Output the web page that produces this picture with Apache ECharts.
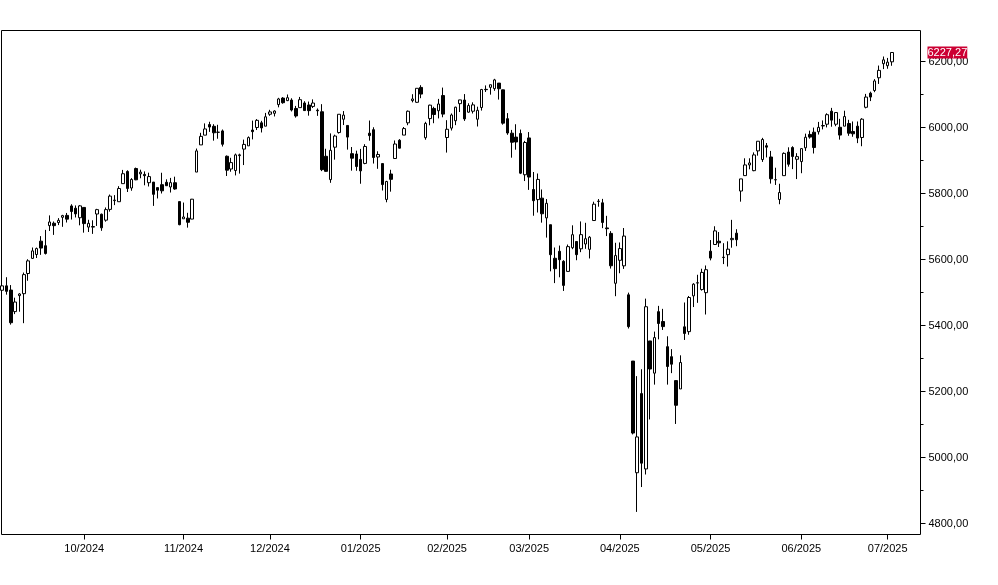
<!DOCTYPE html>
<html>
<head>
<meta charset="utf-8">
<script src="https://cdn.jsdelivr.net/npm/echarts@6.0.0/dist/echarts.min.js"></script>
<style>
html,body{margin:0;padding:0;background:#fff;}
#chart{width:998px;height:585px;}
</style>
</head>
<body>
<div id="chart"></div>
<script>
const dates = [
'2024-09-04','2024-09-05','2024-09-06','2024-09-09','2024-09-10','2024-09-11','2024-09-12','2024-09-13','2024-09-16','2024-09-17','2024-09-18','2024-09-19','2024-09-20','2024-09-23','2024-09-24','2024-09-25','2024-09-26','2024-09-27','2024-09-30',
'2024-10-01','2024-10-02','2024-10-03','2024-10-04','2024-10-07','2024-10-08','2024-10-09','2024-10-10','2024-10-11','2024-10-14','2024-10-15','2024-10-16','2024-10-17','2024-10-18','2024-10-21','2024-10-22','2024-10-23','2024-10-24','2024-10-25','2024-10-28','2024-10-29','2024-10-30','2024-10-31',
'2024-11-01','2024-11-04','2024-11-05','2024-11-06','2024-11-07','2024-11-08','2024-11-11','2024-11-12','2024-11-13','2024-11-14','2024-11-15','2024-11-18','2024-11-19','2024-11-20','2024-11-21','2024-11-22','2024-11-25','2024-11-26','2024-11-27','2024-11-29',
'2024-12-02','2024-12-03','2024-12-04','2024-12-05','2024-12-06','2024-12-09','2024-12-10','2024-12-11','2024-12-12','2024-12-13','2024-12-16','2024-12-17','2024-12-18','2024-12-19','2024-12-20','2024-12-23','2024-12-24','2024-12-26','2024-12-27','2024-12-30','2024-12-31',
'2025-01-02','2025-01-03','2025-01-06','2025-01-07','2025-01-08','2025-01-10','2025-01-13','2025-01-14','2025-01-15','2025-01-16','2025-01-17','2025-01-21','2025-01-22','2025-01-23','2025-01-24','2025-01-27','2025-01-28','2025-01-29','2025-01-30','2025-01-31',
'2025-02-03','2025-02-04','2025-02-05','2025-02-06','2025-02-07','2025-02-10','2025-02-11','2025-02-12','2025-02-13','2025-02-14','2025-02-18','2025-02-19','2025-02-20','2025-02-21','2025-02-24','2025-02-25','2025-02-26','2025-02-27','2025-02-28',
'2025-03-03','2025-03-04','2025-03-05','2025-03-06','2025-03-07','2025-03-10','2025-03-11','2025-03-12','2025-03-13','2025-03-14','2025-03-17','2025-03-18','2025-03-19','2025-03-20','2025-03-21','2025-03-24','2025-03-25','2025-03-26','2025-03-27','2025-03-28','2025-03-31',
'2025-04-01','2025-04-02','2025-04-03','2025-04-04','2025-04-07','2025-04-08','2025-04-09','2025-04-10','2025-04-11','2025-04-14','2025-04-15','2025-04-16','2025-04-17','2025-04-21','2025-04-22','2025-04-23','2025-04-24','2025-04-25','2025-04-28','2025-04-29','2025-04-30',
'2025-05-01','2025-05-02','2025-05-05','2025-05-06','2025-05-07','2025-05-08','2025-05-09','2025-05-12','2025-05-13','2025-05-14','2025-05-15','2025-05-16','2025-05-19','2025-05-20','2025-05-21','2025-05-22','2025-05-23','2025-05-27','2025-05-28','2025-05-29','2025-05-30',
'2025-06-02','2025-06-03','2025-06-04','2025-06-05','2025-06-06','2025-06-09','2025-06-10','2025-06-11','2025-06-12','2025-06-13','2025-06-16','2025-06-17','2025-06-18','2025-06-20','2025-06-23','2025-06-24','2025-06-25','2025-06-26','2025-06-27','2025-06-30',
'2025-07-01','2025-07-02'
];

const openV = [
5506.68,5520.08,5507.33,5442.07,5490.51,5496.42,5557.48,5603.34,5615.14,5655.51,5641.68,5702.63,5709.80,5711.90,5727.80,5733.65,5762.22,5755.36,5726.52,
5757.73,5698.19,5698.09,5737.80,5737.08,5719.14,5751.80,5778.36,5775.09,5829.81,5866.74,5816.58,5875.62,5859.43,5857.82,5832.70,5834.50,5817.80,5826.75,5833.93,5819.68,5832.65,5775.34,
5723.22,5725.15,5722.43,5864.89,5947.21,5976.76,6008.86,6003.60,5985.75,5989.58,5912.79,5874.17,5869.55,5914.69,5934.48,5944.36,5992.28,6000.03,6014.11,6003.98,
6040.11,6042.97,6069.39,6089.03,6081.38,6083.01,6057.59,6060.15,6074.29,6068.17,6063.79,6052.55,6047.65,5912.71,5842.00,5940.25,5984.63,6024.97,6006.17,5920.67,5919.74,
5903.26,5891.07,5982.81,5993.26,5910.66,5890.66,5782.00,5859.08,5905.96,5961.25,5976.95,6014.12,6081.39,6076.32,6121.43,5969.04,6026.97,6057.70,6050.75,6096.79,
5969.65,5998.14,6020.45,6072.22,6083.13,6046.40,6049.32,6025.08,6060.59,6115.52,6121.60,6117.76,6134.50,6114.10,6026.69,5982.73,5970.87,5981.88,5856.74,
5968.33,5811.98,5781.43,5785.87,5726.01,5705.37,5603.65,5624.84,5594.45,5563.85,5635.60,5654.53,5632.37,5646.92,5630.73,5718.08,5775.86,5771.66,5695.64,5679.00,5527.91,
5597.53,5580.76,5492.87,5292.14,4953.79,5193.57,4965.28,5353.15,5255.56,5441.96,5411.99,5335.75,5305.45,5232.94,5207.67,5395.91,5381.38,5489.73,5529.22,5508.87,5499.44,
5625.14,5645.37,5655.32,5605.88,5614.56,5660.00,5679.80,5807.45,5854.16,5886.55,5869.14,5929.09,5902.88,5944.66,5910.58,5841.26,5781.89,5854.07,5925.54,5939.15,5903.67,
5896.68,5938.56,5978.94,5985.67,5987.06,6004.60,6009.91,6049.38,6009.90,6000.56,6004.00,6012.15,5987.93,6004.00,5969.67,6061.21,6104.00,6112.00,6150.70,6193.36,
6187.25,6199.00
];

const highV = [
5552.99,5546.30,5522.47,5484.20,5497.91,5560.41,5600.71,5636.27,5636.05,5670.81,5689.75,5733.57,5715.14,5725.36,5735.32,5741.03,5767.37,5763.78,5765.14,
5757.73,5720.28,5718.78,5753.50,5739.14,5757.60,5796.80,5795.03,5822.13,5871.41,5870.36,5846.52,5878.46,5872.17,5866.92,5863.04,5834.85,5817.80,5862.82,5842.92,5847.19,5850.94,5775.34,
5772.52,5741.43,5783.44,5936.14,5983.84,6012.45,6017.31,6009.92,6008.19,5993.88,5915.24,5908.12,5920.95,5920.67,5963.25,5972.90,6020.75,6025.42,6020.16,6044.17,
6053.58,6052.07,6089.84,6092.00,6099.97,6088.51,6065.40,6092.59,6079.68,6078.58,6085.19,6057.68,6070.67,5935.52,5982.06,5978.25,6040.10,6049.75,6006.17,5940.79,5929.74,
5935.09,5949.34,6021.04,6000.68,5927.89,5890.66,5838.32,5871.92,5960.61,5964.69,6001.43,6051.51,6100.81,6118.73,6128.18,6017.17,6069.11,6062.83,6086.64,6120.91,
6022.13,6042.48,6062.86,6084.03,6101.28,6073.38,6076.28,6063.00,6116.91,6127.47,6129.63,6147.43,6134.50,6114.82,6043.65,5992.65,6009.82,5993.69,5959.40,
5986.09,5865.08,5860.59,5812.08,5783.01,5705.37,5636.30,5642.19,5597.78,5645.27,5703.52,5654.53,5715.33,5711.15,5670.84,5775.14,5783.06,5783.62,5732.28,5685.89,5650.57,
5651.57,5695.31,5499.53,5292.14,5246.57,5267.47,5481.34,5353.15,5381.46,5459.46,5450.41,5367.24,5328.31,5232.94,5309.60,5469.69,5489.40,5528.11,5553.66,5571.95,5581.84,
5658.91,5700.70,5683.20,5649.35,5654.99,5720.10,5691.68,5844.19,5906.63,5906.63,5924.51,5958.62,5968.61,5953.06,5929.00,5878.08,5829.51,5924.54,5939.92,5943.13,5922.14,
5937.40,5981.35,5990.48,5999.70,6016.87,6021.31,6043.01,6059.40,6045.43,6026.16,6050.83,6023.25,6018.25,6018.20,6028.21,6101.80,6108.51,6146.52,6187.68,6215.08,
6210.78,6227.60
];

const lowV = [
5503.66,5493.43,5402.62,5434.49,5441.72,5406.96,5535.50,5601.65,5604.53,5614.05,5615.08,5686.42,5674.49,5704.22,5698.99,5712.06,5721.01,5727.34,5703.53,
5681.28,5683.31,5677.59,5701.68,5686.85,5714.56,5745.02,5764.76,5775.09,5829.81,5804.48,5808.34,5840.25,5846.11,5824.83,5821.17,5762.41,5784.92,5799.98,5823.08,5802.93,5811.28,5703.72,
5723.22,5696.51,5722.10,5864.89,5947.21,5976.76,5986.69,5960.08,5965.91,5942.28,5853.01,5865.95,5854.78,5860.26,5886.14,5944.36,5963.91,5992.27,5984.87,6003.98,
6035.33,6033.39,6061.06,6072.02,6079.98,6048.63,6029.89,6060.15,6051.25,6035.77,6059.14,6035.19,5867.79,5866.07,5832.30,5902.57,5981.44,6007.37,5932.95,5869.16,5868.86,
5829.53,5888.66,5960.01,5890.68,5874.78,5809.00,5773.31,5805.53,5905.96,5936.53,5976.95,6006.88,6076.13,6074.67,6088.74,5962.92,6006.60,6012.96,6027.46,6030.93,
5923.93,5990.87,6007.06,6046.83,6019.96,6044.84,6042.34,6003.00,6051.26,6107.62,6099.51,6111.15,6084.59,6008.56,5977.83,5908.49,5932.69,5858.78,5837.66,
5810.91,5732.59,5742.35,5711.64,5666.29,5564.02,5528.41,5546.09,5504.65,5563.85,5631.12,5597.76,5622.20,5632.29,5603.10,5718.08,5759.93,5695.00,5670.94,5572.42,5488.73,
5558.29,5571.48,5390.83,5069.90,4835.04,4910.42,4948.43,5115.27,5220.77,5358.02,5386.44,5220.79,5255.58,5101.63,5207.67,5356.18,5371.96,5455.86,5468.64,5505.70,5433.24,
5597.35,5644.47,5637.91,5586.06,5578.64,5635.70,5640.29,5775.19,5853.64,5873.26,5867.44,5914.55,5895.69,5909.26,5830.00,5825.82,5767.41,5854.07,5881.26,5873.80,5843.66,
5861.43,5929.00,5966.11,5921.20,5978.63,5994.18,6000.26,6002.32,6003.88,5963.21,6004.00,5974.80,5971.89,5952.56,5943.23,6058.00,6080.00,6107.00,6132.00,6177.00,
6177.97,6187.00
];

const closeV = [
5520.07,5503.41,5408.42,5471.05,5495.52,5554.13,5595.76,5626.02,5633.09,5634.58,5618.26,5713.64,5702.55,5718.57,5732.93,5722.26,5745.37,5738.17,5762.48,
5708.75,5709.54,5699.94,5751.07,5695.94,5751.13,5792.04,5780.05,5815.03,5859.85,5815.26,5842.47,5841.47,5864.67,5853.98,5851.20,5797.42,5809.86,5808.12,5823.52,5832.92,5813.67,5705.45,
5728.80,5712.69,5782.76,5929.04,5973.10,5995.54,6001.35,5983.99,5985.38,5949.17,5870.62,5893.62,5916.98,5917.11,5948.71,5969.34,5987.37,6021.63,5998.74,6032.38,
6047.15,6049.88,6086.49,6075.11,6090.27,6052.85,6034.91,6084.19,6051.25,6051.09,6074.08,6050.61,5872.16,5867.08,5930.85,5974.07,6040.04,6037.59,5970.84,5906.94,5881.63,
5868.55,5942.47,5975.38,5909.03,5918.25,5827.04,5836.22,5842.91,5949.91,5937.34,5996.66,6049.24,6086.37,6118.71,6101.24,6012.28,6067.70,6039.31,6071.17,6040.53,
5994.57,6037.88,6061.48,6083.57,6025.99,6066.44,6068.50,6051.97,6115.07,6114.63,6129.58,6144.15,6117.52,6013.13,5983.25,5955.25,5956.06,5861.57,5954.50,
5849.72,5778.15,5842.63,5738.52,5770.20,5614.56,5572.07,5599.30,5521.52,5638.94,5675.12,5614.66,5675.29,5662.89,5667.56,5767.57,5776.65,5712.20,5693.31,5580.94,5611.85,
5633.07,5670.97,5396.52,5074.08,5062.25,4982.77,5456.90,5268.05,5363.36,5405.97,5396.63,5275.70,5282.70,5158.20,5287.76,5375.86,5484.77,5525.21,5528.75,5560.83,5569.06,
5604.14,5686.67,5650.38,5606.91,5631.28,5663.94,5659.91,5844.19,5886.55,5892.58,5916.93,5958.38,5963.60,5940.46,5844.61,5842.01,5802.82,5921.54,5888.55,5912.17,5911.69,
5935.94,5970.37,5970.81,5939.30,6000.36,6005.88,6038.81,6022.24,6045.26,5976.97,6033.11,5982.72,5980.87,5967.84,6025.17,6092.18,6092.16,6141.02,6173.07,6204.95,
6198.01,6227.27
];

const monthLabels = ['10/2024','11/2024','12/2024','01/2025','02/2025','03/2025','04/2025','05/2025','06/2025','07/2025'];
const yLabelValues = [4800,5000,5200,5400,5600,5800,6000,6200];
const yMinorValues = [4900,5100,5300,5500,5700,5900,6100];
const lastPrice = 6227.27;

// index of first trading day of each new month
const monthStarts = [];
for (let i = 1; i < dates.length; i++) {
  if (dates[i].slice(0,7) !== dates[i-1].slice(0,7)) monthStarts.push(i);
}

const candleData = dates.map((d, i) => [i, openV[i], closeV[i], lowV[i], highV[i]]);

const fmt = v => v.toFixed(2).replace('.', ',');
const FONT = '"Liberation Sans", Arial, sans-serif';

const chart = echarts.init(document.getElementById('chart'), null, {renderer: 'canvas'});
chart.setOption({
  animation: false,
  backgroundColor: '#ffffff',
  grid: {
    left: 1.5, top: 30.5, right: 77.5, bottom: 50.5,
    show: true, borderColor: '#000', borderWidth: 1, backgroundColor: '#fff'
  },
  xAxis: {
    type: 'value',
    min: -0.153,
    max: 212.6,
    position: 'bottom',
    splitLine: {show: false},
    axisLine: {show: false, onZero: false},
    axisTick: {show: true, customValues: monthStarts, length: 5, lineStyle: {color: '#000', width: 1}},
    axisLabel: {
      customValues: monthStarts,
      formatter: v => monthLabels[monthStarts.indexOf(v)] || '',
      color: '#000', fontSize: 11, fontFamily: FONT, margin: 9
    }
  },
  yAxis: [{
    type: 'value',
    position: 'right',
    min: 4766.6,
    max: 6293.9,
    scale: true,
    splitLine: {show: false},
    axisLine: {show: false, onZero: false},
    axisTick: {show: true, customValues: yLabelValues, length: 5, lineStyle: {color: '#000', width: 1}},
    axisLabel: {
      customValues: yLabelValues,
      formatter: v => fmt(v),
      color: '#000', fontSize: 11, fontFamily: FONT, margin: 8
    }
  }, {
    type: 'value',
    position: 'right',
    min: 4766.6,
    max: 6293.9,
    scale: true,
    splitLine: {show: false},
    axisLine: {show: false, onZero: false},
    axisLabel: {show: false},
    axisTick: {show: true, customValues: yMinorValues, length: 3, lineStyle: {color: '#000', width: 1}}
  }],
  series: [{
    type: 'candlestick',
    xAxisIndex: 0,
    yAxisIndex: 0,
    clip: false,
    barWidth: 3,
    encode: {x: 0, y: [1, 2, 3, 4]},
    data: candleData,
    itemStyle: {
      color: '#ffffff',
      color0: '#000000',
      borderColor: '#000000',
      borderColor0: '#000000',
      borderColorDoji: '#000000',
      borderWidth: 1
    },
    markLine: {
      silent: true,
      symbol: ['none', 'none'],
      animation: false,
      lineStyle: {color: 'rgba(0,0,0,0)', width: 0},
      label: {
        show: true,
        position: 'end',
        distance: 7,
        formatter: () => fmt(lastPrice),
        color: '#ffffff',
        backgroundColor: '#cc0033',
        fontSize: 11,
        fontFamily: FONT,
        lineHeight: 12,
        padding: [0, 0, 0, 0]
      },
      data: [{yAxis: lastPrice}]
    }
  }]
});
</script>
</body>
</html>
